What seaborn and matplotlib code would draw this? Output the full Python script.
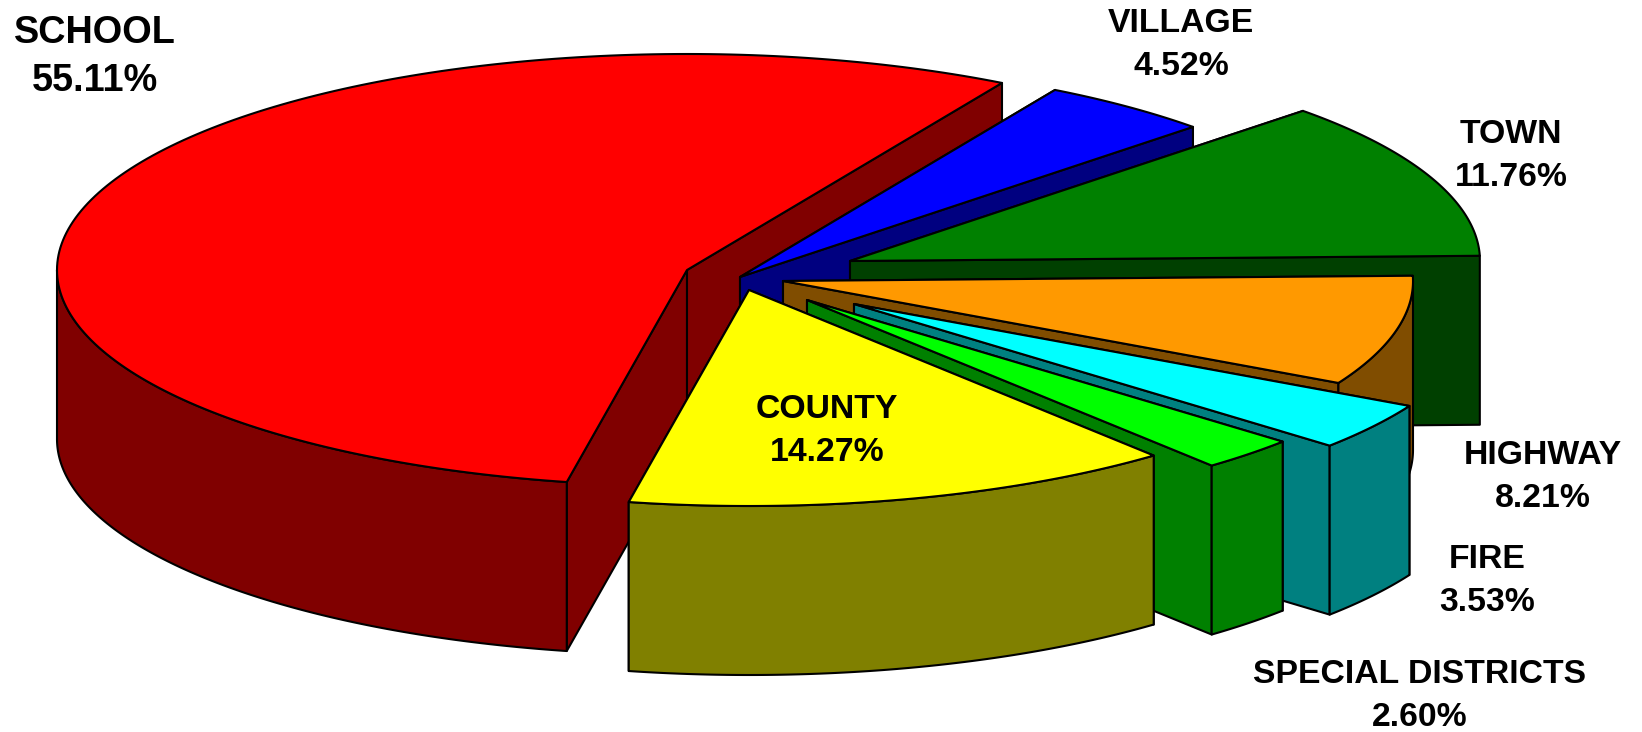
"""Exploded 3D-style pie of property tax shares, drawn with seaborn theme + matplotlib patches."""

import matplotlib
matplotlib.use("Agg")
import matplotlib.pyplot as plt
import numpy as np
import seaborn as sns

# ── Data ──────────────────────────────────────────────────────────────────────
names = ["SCHOOL", "COUNTY", "SPECIAL DISTRICTS", "FIRE", "HIGHWAY", "TOWN", "VILLAGE"]
shares = [55.11, 14.27, 2.60, 3.53, 8.21, 11.76, 4.52]
colors = ["#FF0000", "#FFFF00", "#00FF00", "#00FFFF", "#FF9900", "#008000", "#0000FF"]

# ── Layout (pixels) ───────────────────────────────────────────────────────────
W, H = 1642, 732
RX, RY, DEPTH = 630, 216, 169
START = 60.0
# the source chart's slice boundaries sit a fraction of a degree off the exact shares
edge_nudge = [0, 0.6, 0.2, -0.1, 0, 0, 0.3, 0]
apex_x = [687, 749, 807, 854, 783, 850, 740]
apex_y = [270, 290, 300, 304, 281, 261, 277]
label_x = [95, 827, 1420, 1487, 1543, 1511, 1181]
label_y = [57, 431, 696, 581, 477, 156, 45]
label_size = [27.3, 24.3, 24.3, 24.3, 24.3, 24.3, 24.3]
label_gap = [1.46, 1.5, 1.5, 1.5, 1.5, 1.5, 1.5]
draw_order = [0, 6, 5, 4, 3, 2, 1]
EDGE = dict(edgecolor="black", linewidth=1.5, joinstyle="round")

sns.set_theme(style="white")
plt.rcParams["font.family"] = ["Liberation Sans", "DejaVu Sans"]
palette = sns.color_palette(colors)


def arc(cx, cy, a, b, drop=0):
    t = np.radians(np.linspace(a, b, 200))
    return cx + RX * np.cos(t), cy - RY * np.sin(t) + drop


def cut_face(ax, cx, cy, angle, color):
    x, y = arc(cx, cy, angle, angle)
    ax.fill([cx, x[0], x[0], cx], [cy, y[0], y[0] + DEPTH, cy + DEPTH], color=color, **EDGE)


fig, ax = plt.subplots(figsize=(W / 100, H / 100), dpi=100)
fig.subplots_adjust(0, 0, 1, 1)

edges = START + np.concatenate([[0], np.cumsum(shares)]) * 3.6 + np.array(edge_nudge)

# ── Slices, back to front ─────────────────────────────────────────────────────
for i in draw_order:
    a, b = edges[i], edges[i + 1]
    cx, cy = apex_x[i], apex_y[i]
    top = palette[i]
    side = tuple(c * 0.5 for c in top)

    cut_face(ax, cx, cy, b, side)
    cut_face(ax, cx, cy, a, side)

    # outer rim only where the edge faces the viewer
    lo, hi = max(a, 180), min(b, 360)
    if lo < hi:
        x, y = arc(cx, cy, lo, hi)
        ax.fill(np.r_[x, x[::-1]], np.r_[y, y[::-1] + DEPTH], color=side, **EDGE)

    x, y = arc(cx, cy, a, b)
    ax.fill(np.r_[cx, x], np.r_[cy, y], color=top, **EDGE)

# ── Labels ────────────────────────────────────────────────────────────────────
for i, name in enumerate(names):
    ax.text(label_x[i], label_y[i], f"{name}\n{shares[i]:.2f}%", ha="center", va="center",
            fontsize=label_size[i], fontweight="bold", color="black", linespacing=label_gap[i])

ax.set_xlim(0, W)
ax.set_ylim(H, 0)
ax.set_xticks([])
ax.set_yticks([])
sns.despine(ax=ax, left=True, bottom=True)

plt.savefig("out.png", dpi=100)
plt.close()
